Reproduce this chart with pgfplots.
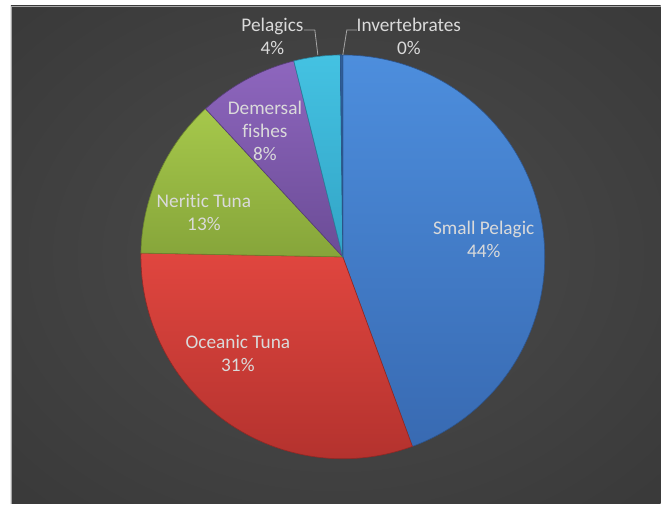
\documentclass[border=0pt]{standalone}
\usepackage{fontspec}
\setmainfont{Carlito}[Ligatures={NoCommon}]
\usepackage{pgfplots}
\usepackage{pgfplotstable}
\pgfplotsset{compat=1.18}

\definecolor{bgin}{HTML}{4C4C4C}
\definecolor{bgout}{HTML}{262626}
\definecolor{blueT}{HTML}{4D8EDD}
\definecolor{blueB}{HTML}{386AB2}
\definecolor{redT}{HTML}{E0463F}
\definecolor{redB}{HTML}{B4322E}
\definecolor{greenT}{HTML}{A6C84B}
\definecolor{greenB}{HTML}{86A53A}
\definecolor{purpleT}{HTML}{8E66BE}
\definecolor{purpleB}{HTML}{6B4C96}
\definecolor{cyanT}{HTML}{44C2E2}
\definecolor{cyanB}{HTML}{32A4C6}
\definecolor{invT}{HTML}{2F5E9A}
\definecolor{invB}{HTML}{2A5488}
\definecolor{lbl}{HTML}{DADADA}
\definecolor{leader}{HTML}{A6A6A6}

\pgfdeclareradialshading{bgshade}{\pgfpoint{0bp}{0bp}}{color(0bp)=(bgin); color(72bp)=(bgout)}

\pgfplotstableread{
name value
SmallPelagic 44.4
OceanicTuna 30.9
NeriticTuna 12.8
DemersalFishes 8.0
Pelagics 3.7
Invertebrates 0.2
}\piedata

\def\cum{0}
\newcommand\getslice[2]{%
  \pgfplotstablegetelem{#1}{value}\of\piedata
  \pgfmathsetmacro\tmpS{90-3.6*\cum}%
  \pgfmathsetmacro\tmpC{\cum+\pgfplotsretval}%
  \pgfmathsetmacro\tmpE{90-3.6*\tmpC}%
  \expandafter\global\expandafter\let\csname aS#2\endcsname\tmpS
  \expandafter\global\expandafter\let\csname aE#2\endcsname\tmpE
  \global\let\cum\tmpC
}

\begin{document}
\getslice{0}{A}\getslice{1}{B}\getslice{2}{C}\getslice{3}{D}\getslice{4}{E}\getslice{5}{F}%
\begin{tikzpicture}
\fill[white] (0,0) rectangle (661bp,504bp);
\path[shading=bgshade] (11bp,0) rectangle (661bp,498bp);
\draw[gray!70, line width=0.7bp] (11.3bp,0) -- (11.3bp,497.7bp) -- (661bp,497.7bp);
\begin{axis}[
  scale only axis, width=661bp, height=504bp,
  xmin=0, xmax=661, ymin=0, ymax=504,
  hide axis, clip=false,
  every axis plot/.append style={line width=0.6bp, samples=120, variable=\t},
]
\addplot[top color=blueT, bottom color=blueB, draw=blueB!80!black, domain=\aEA:\aSA]
  ({343+202*cos(t)},{247+202*sin(t)}) -- (axis cs:343,247) -- cycle;
\addplot[top color=redT, bottom color=redB, draw=redB!80!black, domain=\aEB:\aSB]
  ({343+202*cos(t)},{247+202*sin(t)}) -- (axis cs:343,247) -- cycle;
\addplot[top color=greenT, bottom color=greenB, draw=greenB!80!black, domain=\aEC:\aSC]
  ({343+202*cos(t)},{247+202*sin(t)}) -- (axis cs:343,247) -- cycle;
\addplot[top color=purpleT, bottom color=purpleB, draw=purpleB!80!black, domain=\aED:\aSD]
  ({343+202*cos(t)},{247+202*sin(t)}) -- (axis cs:343,247) -- cycle;
\addplot[top color=cyanT, bottom color=cyanB, draw=cyanB!80!black, domain=\aEE:\aSE]
  ({343+202*cos(t)},{247+202*sin(t)}) -- (axis cs:343,247) -- cycle;
\addplot[top color=invT, bottom color=invB, draw=invB, domain=\aEF:\aSF, samples=5]
  ({343+202*cos(t)},{247+202*sin(t)}) -- (axis cs:343,247) -- cycle;

\draw[leader, line width=0.8bp] (axis cs:304,474) -- (axis cs:315,474) -- (axis cs:318,449);
\draw[leader, line width=0.8bp] (axis cs:357,474) -- (axis cs:347,474) -- (axis cs:343,449);

\tikzset{lab/.style={text=lbl, align=center, font=\fontsize{19.3bp}{23bp}\selectfont, inner sep=0pt}}
\node[lab] at (axis cs:484,264.5) {Small Pelagic\\44\%};
\node[lab] at (axis cs:238,150.5) {Oceanic Tuna\\31\%};
\node[lab] at (axis cs:204,291) {Neritic Tuna\\13\%};
\node[lab] at (axis cs:265,373) {Demersal\\fishes\\8\%};
\node[lab] at (axis cs:272.6,468) {Pelagics\\4\%};
\node[lab] at (axis cs:409,468) {Invertebrates\\0\%};
\end{axis}
\end{tikzpicture}
\end{document}
